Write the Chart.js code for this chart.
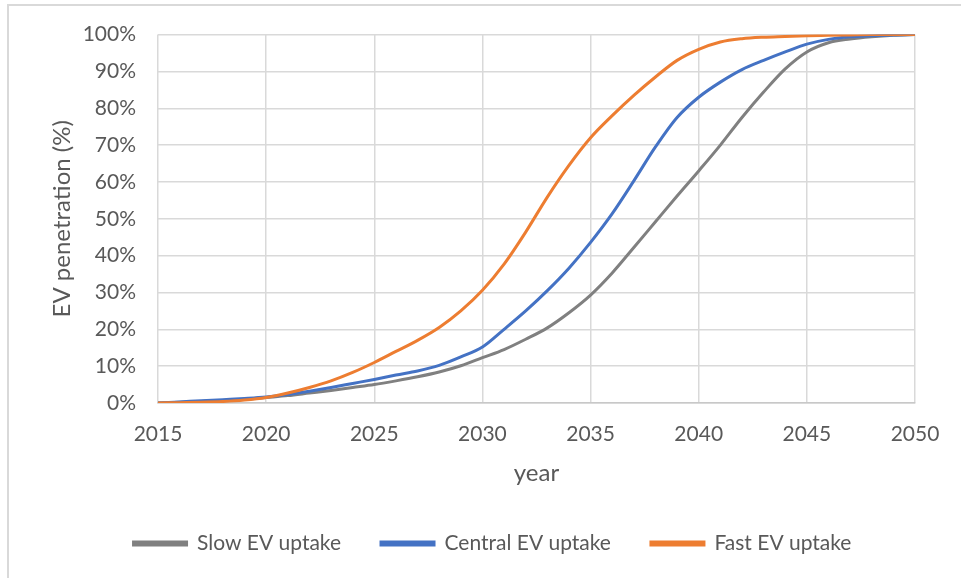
<!DOCTYPE html>
<html>
<head>
<meta charset="utf-8">
<script src="https://cdn.jsdelivr.net/npm/chart.js@4/dist/chart.umd.min.js"></script>
<style>
  html, body { margin: 0; padding: 0; background: #fff; }
  #wrap { position: relative; width: 961px; height: 578px; }
  #frame { position: absolute; left: 7px; top: 4px; right: -4px; bottom: -4px;
           border-left: 2px solid #d9d9d9; border-top: 2px solid #d9d9d9; pointer-events: none; }
</style>
</head>
<body>
<div id="wrap">
  <canvas id="evChart" width="961" height="578"></canvas>
  <div id="frame"></div>
</div>
<script>
// EV penetration (%) by year
var years = [2015, 2016, 2017, 2018, 2019, 2020, 2021, 2022, 2023, 2024, 2025, 2026,
             2027, 2028, 2029, 2030, 2031, 2032, 2033, 2034, 2035, 2036, 2037, 2038,
             2039, 2040, 2041, 2042, 2043, 2044, 2045, 2046, 2047, 2048, 2049, 2050];

var slowUptake = [0, 0.2, 0.4, 0.7, 1.0, 1.5, 2.0, 2.7, 3.4, 4.2, 5.0, 6.0,
                  7.1, 8.4, 10.1, 12.3, 14.5, 17.3, 20.4, 24.5, 29.3, 35.3, 42.2, 49.2,
                  56.2, 63.0, 70.0, 77.5, 84.4, 90.7, 95.3, 97.8, 98.8, 99.4, 99.8, 100];

var centralUptake = [0, 0.3, 0.6, 0.9, 1.2, 1.6, 2.3, 3.2, 4.2, 5.3, 6.4, 7.6,
                     8.7, 10.2, 12.5, 15.2, 20.0, 25.0, 30.5, 36.6, 43.6, 51.4, 60.3, 69.5,
                     77.5, 83.0, 87.1, 90.5, 93.0, 95.3, 97.4, 98.7, 99.4, 99.7, 99.9, 100];

var fastUptake = [0, 0.1, 0.2, 0.4, 0.8, 1.5, 2.7, 4.2, 6.0, 8.3, 11.0, 14.0,
                  17.0, 20.5, 25.0, 30.6, 37.7, 46.4, 55.9, 64.5, 72.0, 78.0, 83.5, 88.5,
                  93.0, 96.0, 98.0, 98.9, 99.3, 99.5, 99.7, 99.8, 99.9, 100, 100, 100];

var seriesNames = ['Slow EV uptake', 'Central EV uptake', 'Fast EV uptake'];

function toPoints(values) {
    return values.map(function(v, i) { return {x: years[i], y: v}; });
}

var textColor = '#595959';
var gridColor = '#d9d9d9';
var tickFont = { family: 'Lato', size: 21 };
var legendFont = { family: 'Lato', size: 21 };
var titleFont = { family: 'Lato', size: 24 };

Chart.defaults.font.family = 'Lato';
Chart.defaults.color = textColor;

function makeSeries(label, values, color, order) {
    return {
        label: label,
        data: toPoints(values),
        borderColor: color,
        backgroundColor: color,
        borderWidth: 3,
        pointRadius: 0,
        cubicInterpolationMode: 'monotone',
        order: order
    };
}

var evChart = new Chart(document.getElementById('evChart'), {
    type: 'line',
    data: {
        datasets: [
            makeSeries(seriesNames[0], slowUptake, '#808080', 3),
            makeSeries(seriesNames[1], centralUptake, '#4472c4', 2),
            makeSeries(seriesNames[2], fastUptake, '#ed7d31', 1)
        ]
    },
    options: {
        animation: false,
        responsive: false,
        layout: {
            // left padding is wide so the legend row centres where Excel put it
            padding: { left: 70, right: 46, top: 34, bottom: 14 }
        },
        plugins: {
            title: { display: false },
            tooltip: { enabled: false },
            legend: {
                position: 'bottom',
                labels: {
                    boxWidth: 53,
                    boxHeight: 3,
                    padding: 40,
                    color: textColor,
                    font: legendFont,
                    sort: function(a, b) { return a.datasetIndex - b.datasetIndex; }
                }
            }
        },
        scales: {
            x: {
                type: 'linear',
                min: 2015,
                max: 2050,
                afterFit: function(scale) { scale.height = 90; },
                ticks: {
                    stepSize: 5,
                    padding: 19,
                    color: textColor,
                    font: tickFont,
                    callback: function(value) { return String(value); }
                },
                grid: { color: gridColor, lineWidth: 1.5, drawTicks: false },
                border: { color: '#c8c8c8', width: 1.5 },
                title: {
                    display: true,
                    text: 'year',
                    color: textColor,
                    font: titleFont,
                    padding: { top: 0, bottom: 5 }
                }
            },
            y: {
                min: 0,
                max: 100,
                afterFit: function(scale) { scale.width = 88; },
                ticks: {
                    stepSize: 10,
                    padding: 22,
                    color: textColor,
                    font: tickFont,
                    callback: function(value) { return value + '%'; }
                },
                grid: { color: gridColor, lineWidth: 1.5, drawTicks: false },
                border: { display: false },
                title: {
                    display: true,
                    text: 'EV penetration (%)',
                    color: textColor,
                    font: titleFont,
                    padding: { top: -22, bottom: 0 }
                }
            }
        }
    }
});
</script>
</body>
</html>
